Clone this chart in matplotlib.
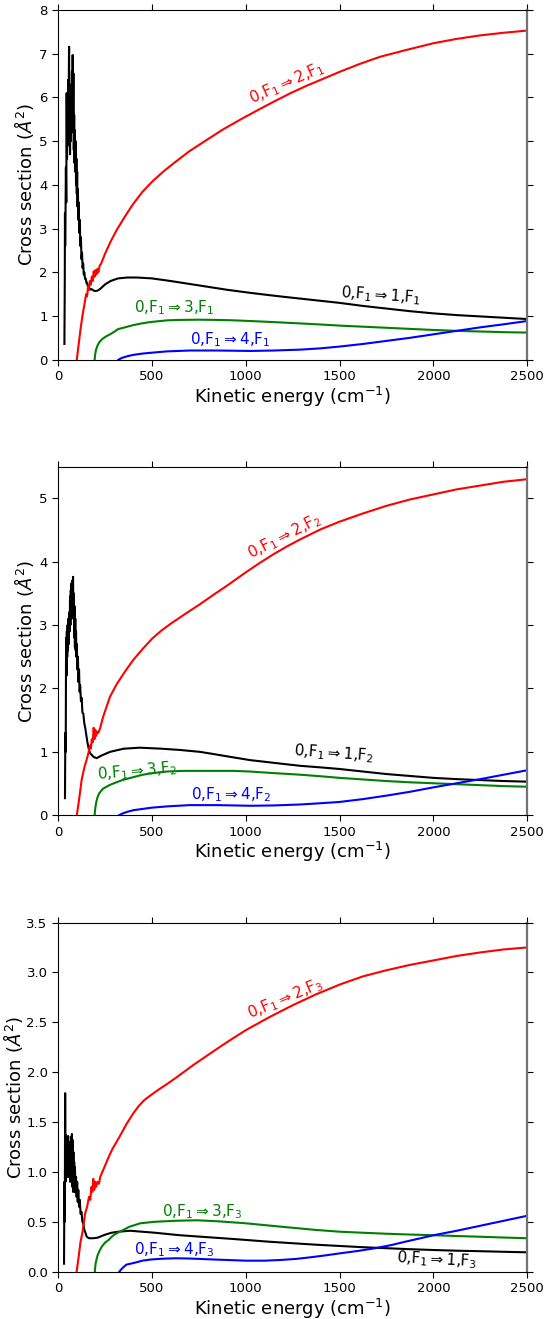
import matplotlib
matplotlib.use("Agg")
import matplotlib.pyplot as plt

# ---------------- data (E in cm^-1, cross section in A^2) ----------------
# Panel 1 : 0,F1 -> v,F1
p1_black = [(34,0.36),(36,1.8),(37,3.35),(38,2.6),(40,3.4),(42,4.4),(44,3.6),(46,6.1),(48,4.6),(50,5.9),
            (52,4.9),(54,6.4),(56,5.2),(58,6.8),(59,7.16),(60,5.0),(62,6.3),(64,4.7),(66,6.2),(68,5.0),
            (70,6.0),(72,5.3),(74,6.6),(76,5.4),(78,6.97),(80,5.2),(82,6.55),(84,4.8),(86,5.6),(88,4.5),
            (90,5.25),(92,4.3),(94,5.0),(96,4.0),(98,4.6),(100,3.8),(102,4.3),(104,3.5),(106,3.9),(108,3.2),
            (110,3.6),(113,2.9),(116,3.2),(119,2.6),(122,2.8),(125,2.3),(128,2.45),(131,2.1),(134,2.2),
            (137,1.95),(140,2.0),(144,1.85),(148,1.85),(152,1.75),(156,1.75),(160,1.66),(165,1.64),(170,1.6),
            (175,1.62),(180,1.61),(190,1.58),(200,1.57),(210,1.58),(225,1.62),(250,1.72),(280,1.80),(320,1.86),
            (370,1.88),(420,1.88),(500,1.86),(600,1.8),(675,1.75),(750,1.7),(825,1.65),(900,1.6),(1023,1.53),
            (1100,1.49),(1200,1.44),(1350,1.37),(1500,1.30),(1625,1.23),(1750,1.17),(1875,1.11),(2000,1.06),
            (2125,1.02),(2250,0.99),(2375,0.96),(2500,0.93)]
p1_red = [(100,0),(110,0.35),(120,0.7),(130,1.0),(140,1.25),(150,1.5),(155,1.45),(160,1.68),(165,1.6),
          (170,1.8),(175,1.72),(180,1.9),(185,1.8),(190,2.02),(195,1.9),(200,2.05),(205,1.95),(210,2.08),
          (215,2.0),(222,2.15),(230,2.2),(250,2.42),(280,2.7),(313,2.97),(360,3.3),(400,3.56),(450,3.84),
          (503,4.08),(560,4.3),(615,4.49),(700,4.77),(793,5.03),(880,5.27),(970,5.49),(1060,5.7),(1148,5.9),
          (1240,6.1),(1326,6.27),(1415,6.43),(1503,6.59),(1610,6.77),(1716,6.93),(1850,7.08),(2000,7.24),
          (2125,7.34),(2250,7.42),(2375,7.48),(2500,7.53)]
p1_green = [(195,0),(198,0.12),(202,0.22),(210,0.32),(220,0.4),(235,0.47),(255,0.53),(277,0.58),(300,0.64),
            (320,0.7),(348,0.73),(400,0.79),(445,0.83),(490,0.86),(580,0.9),(650,0.91),(750,0.915),(846,0.91),
            (940,0.9),(1023,0.885),(1150,0.86),(1290,0.83),(1400,0.805),(1500,0.78),(1625,0.755),(1750,0.73),
            (1875,0.705),(2000,0.68),(2125,0.66),(2250,0.645),(2375,0.63),(2500,0.62)]
p1_blue = [(322,0),(340,0.04),(370,0.08),(401,0.11),(450,0.14),(500,0.16),(580,0.19),(640,0.2),(700,0.21),
           (846,0.21),(940,0.205),(1023,0.2),(1150,0.21),(1290,0.23),(1400,0.26),(1500,0.3),(1625,0.36),
           (1750,0.43),(1875,0.5),(2000,0.58),(2125,0.66),(2250,0.74),(2375,0.81),(2500,0.885)]

# Panel 2 : 0,F1 -> v,F2
p2_black = [(37,0.27),(39,1.3),(41,1.0),(43,2.8),(45,2.2),(47,2.9),(49,2.5),(51,3.0),(53,2.6),(55,3.1),
            (57,2.7),(60,3.2),(62,2.9),(64,3.45),(66,3.0),(68,3.55),(70,3.1),(72,3.66),(74,3.2),(76,3.7),
            (78,3.3),(80,3.76),(82,3.1),(84,3.5),(86,2.8),(88,3.3),(90,2.65),(92,3.1),(94,2.6),(96,2.9),
            (98,2.5),(100,2.7),(103,2.3),(106,2.5),(109,2.1),(112,2.3),(115,1.95),(118,2.05),(122,1.8),
            (126,1.85),(130,1.62),(135,1.6),(140,1.45),(145,1.38),(150,1.28),(155,1.18),(160,1.1),(165,1.03),
            (171,0.98),(180,0.95),(190,0.92),(206,0.9),(230,0.94),(277,1.0),(350,1.05),(437,1.066),(550,1.05),
            (650,1.03),(757,1.0),(830,0.965),(900,0.93),(1023,0.87),(1112,0.84),(1200,0.81),(1290,0.78),
            (1400,0.755),(1500,0.73),(1625,0.69),(1750,0.65),(1875,0.62),(2000,0.59),(2125,0.57),(2250,0.555),
            (2375,0.54),(2500,0.53)]
p2_red = [(100,0),(110,0.2),(126,0.56),(140,0.75),(150,0.85),(162,0.98),(170,1.1),(175,1.05),(180,1.2),
          (185,1.15),(190,1.38),(194,1.2),(198,1.35),(203,1.25),(208,1.32),(215,1.3),(224,1.37),(240,1.55),
          (277,1.87),(313,2.07),(360,2.28),(401,2.45),(450,2.62),(503,2.79),(550,2.91),(600,3.02),(680,3.18),
          (757,3.33),(830,3.48),(900,3.62),(1000,3.83),(1075,3.98),(1150,4.12),(1220,4.24),(1290,4.35),
          (1400,4.51),(1500,4.63),(1625,4.76),(1750,4.88),(1875,4.98),(2000,5.06),(2125,5.14),(2250,5.2),
          (2375,5.26),(2500,5.30)]
p2_green = [(195,0),(198,0.1),(203,0.2),(210,0.28),(220,0.35),(240,0.42),(277,0.48),(320,0.53),(348,0.56),
            (400,0.6),(445,0.635),(490,0.66),(580,0.69),(668,0.70),(800,0.70),(935,0.70),(1023,0.69),
            (1150,0.665),(1290,0.64),(1400,0.615),(1500,0.59),(1625,0.565),(1750,0.54),(1875,0.52),(2000,0.505),
            (2125,0.49),(2250,0.475),(2375,0.46),(2500,0.45)]
p2_blue = [(325,0),(345,0.03),(370,0.055),(401,0.08),(450,0.1),(500,0.12),(580,0.14),(640,0.15),(700,0.16),
           (846,0.16),(940,0.155),(1023,0.15),(1150,0.155),(1290,0.17),(1400,0.19),(1500,0.21),(1625,0.255),
           (1750,0.31),(1875,0.37),(2000,0.44),(2125,0.505),(2250,0.57),(2375,0.64),(2500,0.71)]

# Panel 3 : 0,F1 -> v,F3
p3_black = [(32,0.08),(34,0.9),(36,0.5),(38,1.79),(40,0.9),(42,1.37),(44,0.95),(46,1.35),(48,1.0),(50,1.3),
            (52,0.95),(54,1.36),(56,1.0),(58,1.3),(60,0.95),(62,1.25),(64,0.9),(66,1.3),(68,0.95),(70,1.35),
            (72,1.0),(74,1.38),(76,0.85),(78,1.32),(80,0.8),(82,1.2),(84,0.85),(86,1.1),(88,0.8),(90,1.05),
            (93,0.8),(96,0.95),(99,0.75),(102,0.9),(105,0.7),(108,0.82),(112,0.65),(116,0.72),(120,0.58),
            (125,0.6),(130,0.5),(135,0.48),(140,0.42),(146,0.39),(153,0.35),(165,0.335),(188,0.335),(210,0.34),
            (250,0.37),(285,0.39),(321,0.40),(383,0.41),(450,0.40),(517,0.39),(580,0.378),(650,0.365),
            (725,0.355),(800,0.345),(900,0.332),(1000,0.318),(1125,0.30),(1250,0.285),(1375,0.27),(1504,0.257),
            (1625,0.245),(1750,0.235),(1875,0.225),(2001,0.217),(2125,0.21),(2250,0.205),(2375,0.199),(2500,0.194)]
p3_red = [(99,0),(110,0.15),(120,0.3),(131,0.4),(144,0.58),(155,0.65),(165,0.75),(172,0.72),(178,0.85),
          (183,0.8),(188,0.93),(193,0.82),(198,0.9),(203,0.85),(210,0.9),(218,0.88),(225,0.95),(234,0.99),
          (250,1.06),(270,1.15),(290,1.23),(327,1.35),(365,1.48),(402,1.59),(430,1.66),(460,1.72),(495,1.77),
          (540,1.83),(580,1.88),(626,1.94),(720,2.07),(813,2.19),(900,2.3),(1000,2.42),(1125,2.55),(1250,2.67),
          (1375,2.78),(1504,2.88),(1625,2.96),(1747,3.02),(1875,3.075),(2001,3.12),(2125,3.165),(2250,3.2),
          (2375,3.23),(2500,3.25)]
p3_green = [(196,0),(200,0.08),(210,0.16),(224,0.22),(233,0.25),(250,0.29),(271,0.32),(286,0.35),(300,0.37),
            (327,0.40),(340,0.41),(380,0.45),(439,0.485),(517,0.5),(626,0.51),(738,0.515),(850,0.505),
            (1000,0.485),(1125,0.462),(1250,0.44),(1375,0.418),(1504,0.40),(1625,0.39),(1750,0.38),
            (1875,0.372),(2001,0.365),(2125,0.357),(2250,0.35),(2375,0.342),(2500,0.335)]
p3_blue = [(327,0),(340,0.03),(364,0.07),(410,0.09),(450,0.11),(495,0.122),(560,0.13),(626,0.134),(690,0.132),
           (750,0.128),(825,0.122),(900,0.117),(1000,0.11),(1100,0.11),(1187,0.117),(1270,0.128),(1350,0.145),
           (1425,0.163),(1504,0.184),(1600,0.208),(1687,0.234),(1775,0.266),(1850,0.3),(1925,0.332),
           (2001,0.365),(2125,0.41),(2250,0.46),(2375,0.51),(2500,0.56)]

ylims = [8, 5.5, 3.5]
yticks = [list(range(0, 9)), list(range(0, 6)), [0.0, 0.5, 1.0, 1.5, 2.0, 2.5, 3.0, 3.5]]
xticks = [0, 500, 1000, 1500, 2000, 2500]

# labels: (text, colour, E, sigma, rotation)
labels = [
    [(r'0,F$_1$$\Rightarrow$2,F$_1$', 'red', 1219, 6.34, 24),
     (r'0,F$_1$$\Rightarrow$1,F$_1$', 'black', 1720, 1.47, -4),
     (r'0,F$_1$$\Rightarrow$3,F$_1$', 'green', 618, 1.18, 0),
     (r'0,F$_1$$\Rightarrow$4,F$_1$', 'blue', 918, 0.45, 0)],
    [(r'0,F$_1$$\Rightarrow$2,F$_2$', 'red', 1210, 4.40, 27),
     (r'0,F$_1$$\Rightarrow$1,F$_2$', 'black', 1471, 0.98, -4),
     (r'0,F$_1$$\Rightarrow$3,F$_2$', 'green', 421, 0.70, 5),
     (r'0,F$_1$$\Rightarrow$4,F$_2$', 'blue', 922, 0.32, 0)],
    [(r'0,F$_1$$\Rightarrow$2,F$_3$', 'red', 1214, 2.74, 23),
     (r'0,F$_1$$\Rightarrow$3,F$_3$', 'green', 770, 0.60, 0),
     (r'0,F$_1$$\Rightarrow$4,F$_3$', 'blue', 618, 0.217, 0),
     (r'0,F$_1$$\Rightarrow$1,F$_3$', 'black', 2020, 0.117, -3)],
]

panels = [
    [(p1_black, 'black'), (p1_red, 'red'), (p1_green, 'green'), (p1_blue, 'blue')],
    [(p2_black, 'black'), (p2_red, 'red'), (p2_green, 'green'), (p2_blue, 'blue')],
    [(p3_black, 'black'), (p3_red, 'red'), (p3_green, 'green'), (p3_blue, 'blue')],
]

fig = plt.figure(figsize=(5.5, 13.19), dpi=100)
positions = [[0.1055, 0.7273, 0.853, 0.2651],
             [0.1055, 0.3819, 0.853, 0.2644],
             [0.1055, 0.0359, 0.853, 0.2647]]
ylabel_x = [-0.046, -0.046, -0.071]

for i in range(3):
    ax = fig.add_axes(positions[i])
    for data, col in panels[i]:
        xs = [p[0] for p in data]
        ys = [p[1] for p in data]
        ax.plot(xs, ys, color=col, lw=1.5, solid_joinstyle='round')
    for txt, col, ex, ey, rot in labels[i]:
        ax.text(ex, ey, txt, color=col, fontsize=11, rotation=rot,
                ha='center', va='center', rotation_mode='anchor')
    ax.set_xlim(0, 2500)
    ax.set_ylim(0, ylims[i])
    ax.set_xticks(xticks)
    ax.set_yticks(yticks[i])
    if i == 2:
        ax.set_yticklabels(['%.1f' % v for v in yticks[i]])
    ax.tick_params(axis='both', which='both', direction='out', top=True, right=True,
                   labelsize=9.5, length=4)
    ax.spines['right'].set_color('0.45')
    ax.spines['right'].set_linewidth(1.6)
    ax.set_xlabel(r'Kinetic energy (cm$^{-1}$)', fontsize=13, labelpad=1)
    ax.set_ylabel(r'Cross section ($\AA^2$)', fontsize=13)
    ax.yaxis.set_label_coords(ylabel_x[i], 0.5)

fig.savefig('out.png', dpi=100)
